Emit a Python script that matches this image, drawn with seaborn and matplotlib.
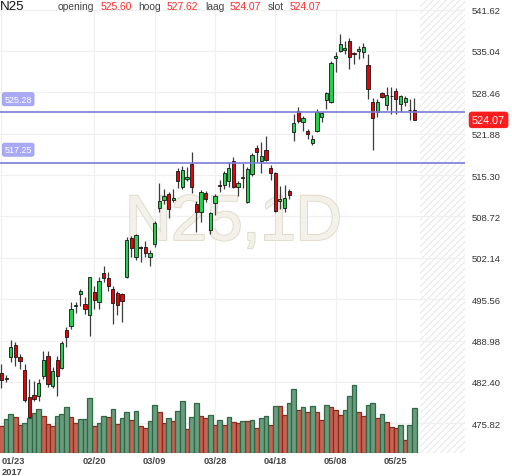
import numpy as np
import pandas as pd
import matplotlib
matplotlib.use("Agg")
import matplotlib.pyplot as plt
import matplotlib.transforms as mtransforms
import matplotlib.patheffects as pe
import seaborn as sns

sns.set_theme(style="white")
plt.rcParams["font.family"] = ["Liberation Sans", "DejaVu Sans"]
plt.rcParams["hatch.linewidth"] = 0.7

# ---- data (N25 daily, 23 jan - 31 mei 2017) ----
open_ = [483.82, 482.92, 486.32, 488.28, 486.42, 484.35, 479.96, 480.33, 480.21, 483.39,
         486.57, 481.71, 485.89, 484.57, 490.66, 491.25, 494.50, 496.34, 494.75, 493.05,
         496.75, 495.16, 499.68, 498.93, 497.18, 496.54, 496.34, 499.04, 505.34, 502.32,
         503.85, 503.91, 502.22, 504.29, 510.11, 511.38, 512.29, 511.28, 515.99, 513.35,
         514.67, 517.05, 510.69, 509.47, 512.44, 506.56, 510.81, 513.76, 513.72, 514.40,
         517.48, 513.35, 514.90, 511.06, 515.46, 519.55, 517.48, 519.28, 516.37, 515.62,
         511.22, 510.06, 512.71, 522.10, 525.53, 523.69, 522.25, 520.39, 522.35, 524.48,
         527.28, 526.87, 533.86, 535.07, 535.18, 536.61, 534.70, 535.07, 534.91, 532.72,
         526.96, 525.32, 528.30, 526.44, 527.80, 528.71, 526.52, 526.87, 525.60, 525.60]
high = [485.25, 483.51, 489.07, 488.71, 486.85, 485.25, 482.87, 482.60, 482.87, 487.37,
        487.37, 484.73, 486.57, 488.96, 491.09, 495.16, 495.07, 497.18, 495.86, 499.14,
        497.70, 499.04, 500.88, 499.84, 497.70, 496.91, 496.54, 505.40, 505.65, 505.92,
        504.06, 504.86, 503.38, 508.04, 513.99, 513.08, 512.56, 513.08, 516.37, 516.78,
        516.53, 518.92, 511.22, 512.97, 512.81, 509.47, 512.29, 514.56, 515.99, 517.33,
        518.22, 514.40, 517.21, 516.53, 518.80, 520.08, 520.51, 521.46, 516.90, 515.74,
        513.60, 513.72, 513.08, 525.00, 526.07, 524.64, 522.62, 521.67, 525.80, 525.37,
        528.55, 533.48, 534.82, 537.65, 536.66, 537.09, 534.82, 535.86, 536.29, 534.54,
        527.50, 527.39, 528.55, 529.25, 529.25, 529.09, 528.07, 527.82, 527.39, 527.62]
low = [481.39, 482.35, 485.62, 484.98, 484.46, 479.17, 476.67, 479.42, 479.42, 482.87,
       481.55, 481.39, 480.21, 484.46, 487.91, 490.82, 493.36, 494.52, 493.20, 489.66,
       494.00, 494.00, 498.25, 496.91, 491.61, 493.05, 491.89, 498.88, 502.22, 501.84,
       501.43, 502.22, 500.88, 503.81, 509.38, 510.69, 508.47, 510.97, 513.19, 513.08,
       514.40, 512.44, 506.29, 507.88, 510.97, 505.92, 508.95, 512.65, 513.08, 513.35,
       513.19, 512.01, 513.19, 510.85, 515.19, 517.33, 515.62, 517.48, 514.56, 509.38,
       509.90, 509.38, 511.49, 520.76, 523.57, 522.35, 521.03, 520.08, 522.19, 523.78,
       525.80, 526.75, 531.68, 534.86, 534.54, 532.16, 532.95, 533.75, 533.86, 527.39,
       519.33, 524.48, 527.50, 525.69, 525.00, 524.93, 525.32, 526.32, 524.05, 524.07]
close = [482.76, 483.03, 487.91, 486.42, 485.78, 479.58, 476.78, 479.69, 482.23, 485.89,
         482.07, 484.19, 483.39, 488.55, 489.50, 494.00, 494.65, 496.81, 493.95, 499.04,
         495.48, 498.50, 498.98, 497.61, 494.91, 494.68, 495.32, 504.97, 503.75, 505.72,
         503.75, 502.95, 502.86, 507.67, 511.17, 511.92, 509.90, 511.60, 514.40, 516.15,
         514.99, 513.45, 509.47, 512.65, 511.49, 509.26, 512.01, 513.51, 515.62, 516.37,
         513.35, 514.03, 514.98, 516.26, 518.53, 519.01, 518.37, 517.69, 515.62, 509.63,
         511.49, 511.60, 512.17, 523.57, 523.94, 524.32, 521.82, 521.03, 525.37, 525.12,
         528.30, 533.11, 534.18, 536.13, 535.50, 534.02, 534.62, 535.34, 535.61, 528.90,
         524.37, 526.87, 527.76, 528.03, 527.85, 527.39, 527.87, 527.60, 525.68, 524.07]
volume = [27.3, 34.0, 39.0, 35.7, 28.3, 30.0, 35.0, 39.7, 44.0, 37.3,
          29.0, 27.3, 36.7, 39.0, 45.7, 35.7, 29.7, 34.0, 34.0, 55.0,
          27.3, 29.7, 37.3, 35.7, 44.0, 29.0, 35.0, 40.7, 33.0, 42.3,
          26.7, 25.0, 31.7, 48.3, 41.3, 29.7, 35.0, 32.3, 42.3, 51.7,
          24.0, 35.7, 49.7, 36.7, 35.0, 38.0, 28.3, 33.3, 28.3, 35.7,
          31.3, 30.0, 32.3, 32.3, 33.3, 25.0, 35.0, 37.3, 28.3, 47.3,
          46.7, 38.0, 49.7, 64.3, 43.3, 45.7, 40.7, 47.3, 40.7, 33.3,
          48.3, 45.7, 43.3, 38.0, 43.3, 57.3, 68.3, 40.7, 36.7, 48.3,
          50.0, 35.0, 39.0, 31.3, 26.3, 25.0, 28.3, 13.0, 28.3, 44.7]
# u = groene volumebalk, d = rode volumebalk
vol_dir = ["d", "u", "u", "d", "d", "u", "u", "u", "u", "d",
           "d", "d", "u", "u", "u", "d", "d", "u", "u", "u",
           "d", "u", "u", "d", "u", "d", "u", "u", "d", "u",
           "d", "d", "u", "u", "d", "d", "u", "d", "u", "u",
           "d", "u", "u", "d", "d", "u", "d", "u", "d", "u",
           "d", "d", "u", "d", "u", "d", "u", "u", "d", "u",
           "d", "d", "u", "u", "d", "u", "d", "u", "d", "d",
           "u", "d", "d", "d", "u", "u", "u", "d", "d", "u",
           "u", "d", "u", "d", "d", "d", "u", "d", "u", "u"]

tick_pos    = [0, 20, 33, 46, 59, 72, 85]
tick_labels = ["01/23\n2017", "02/20", "03/09", "03/28", "04/18", "05/08", "05/25"]
price_ticks = [541.62, 535.04, 528.46, 521.88, 515.30, 508.72, 502.14, 495.56, 488.98, 482.40, 475.82]
levels      = [525.28, 517.25]

df = pd.DataFrame({"idx": np.arange(len(close)), "open": open_, "high": high,
                   "low": low, "close": close, "volume": volume, "vol_dir": vol_dir})

xlo, xhi = -0.32, 99.9
ylo, yhi = 471.1, 543.29

fig = plt.figure(figsize=(5.12, 4.77), dpi=100)
fig.patch.set_facecolor("white")
rect = [0, 23 / 477, 465 / 512, 454 / 477]
ax_vol = fig.add_axes(rect)
ax = fig.add_axes(rect)

# ---- achtergrond: volume, grid, watermerk, arcering ----
ax_vol.set_facecolor("white")
sns.barplot(data=df, x="idx", y="volume", hue="vol_dir", native_scale=True,
            palette={"u": "#62a47c", "d": "#da5540"}, width=1.0, dodge=False,
            errorbar=None, legend=False, ax=ax_vol, linewidth=0.9, zorder=2)
edge_map = {"u": "#2f6844", "d": "#8a2a1c"}
for bar in ax_vol.patches:
    k = int(round(bar.get_x() + bar.get_width() / 2))
    if 0 <= k < len(vol_dir):
        bar.set_edgecolor(edge_map[vol_dir[k]])
ax_vol.set_xlim(xlo, xhi)
ax_vol.set_ylim(0, max(volume) * 6.65)
ax_vol.set_xlabel("")
ax_vol.set_ylabel("")
ax_vol.set_xticks([])
ax_vol.set_yticks([])
for s in ax_vol.spines.values():
    s.set_visible(False)

ax_vol.axvspan(90.2, xhi, facecolor="white", edgecolor="#e6e6e6", hatch="/////",
               linewidth=0, zorder=0)
blend = mtransforms.blended_transform_factory(ax_vol.transAxes, ax.transData)
for p in price_ticks:
    ax_vol.plot([0, 1], [p, p], transform=blend, color="#f0f0f0", lw=0.9, zorder=0.5)
for t in tick_pos:
    ax_vol.axvline(t, ymin=0, ymax=1 - 10 / 454, color="#f0f0f0", lw=0.9, zorder=0.5)

wm = ax_vol.text(0.502, 0.507, "N25,1D", transform=ax_vol.transAxes, fontsize=46,
                 color="#f3f1ea", ha="center", va="center", zorder=1)
wm.set_path_effects([pe.withStroke(linewidth=1.6, foreground="#e0dbcc"), pe.Normal()])

# ---- koerslaag: candles ----
ax.patch.set_visible(False)
body_lo = np.minimum(df["open"], df["close"])
body_h = np.maximum(np.abs(df["close"] - df["open"]), 0.1)
body_col = np.where(df["close"] >= df["open"], "#25d04c", "#ec0000")
ax.vlines(df["idx"], df["low"], df["high"], color="#3c3c3c", lw=0.9, zorder=2)
ax.bar(df["idx"], body_h, bottom=body_lo, width=0.7, color=body_col,
       edgecolor="#141414", linewidth=0.6, zorder=3)

for lv in levels:
    ax.axhline(lv, color="#7b7bd8", lw=1.2, zorder=4)
    ax.annotate(f"{lv:.2f}", xy=(0.0097, lv), xycoords=("axes fraction", "data"),
                xytext=(0, 9.4), textcoords="offset points", ha="left", va="center",
                fontsize=6.5, color="white",
                bbox=dict(boxstyle="round,pad=0.22", fc="#a9a9f6", ec="#9c9cee", lw=0.6))

ax.set_xlim(xlo, xhi)
ax.set_ylim(ylo, yhi)
ax.yaxis.tick_right()
ax.set_yticks(price_ticks)
ax.set_yticklabels([f"{p:.2f}" for p in price_ticks])
ax.tick_params(axis="y", length=0, pad=5, labelsize=6.8, colors="#333333")
ax.set_xticks(tick_pos)
ax.set_xticklabels(tick_labels)
ax.tick_params(axis="x", length=0, pad=2.5, labelsize=6.7, colors="#444444")
for lab in ax.get_xticklabels():
    lab.set_fontweight("bold")
first = ax.get_xticklabels()[0]
first.set_horizontalalignment("left")
first.set_multialignment("left")
for s in ax.spines.values():
    s.set_visible(False)
ax.grid(False)

# laatste koers
ax.text(1 + 7 / 465, close[-1], f"{close[-1]:.2f}",
        transform=mtransforms.blended_transform_factory(ax.transAxes, ax.transData),
        ha="left", va="center", fontsize=7.8, color="white", zorder=6, clip_on=False,
        bbox=dict(boxstyle="round,pad=0.3", fc="#ff1c1c", ec="none"))

# kopregel
base = 1 - 10.3 / 477
fig.text(0 / 512, base, "N25", fontsize=9.6, color="#151515", va="baseline")
hdr = [("opening", 58, "#444444"), (f"{open_[-1]:.2f}", 101, "#ff2a2a"),
       ("hoog", 138, "#444444"), (f"{high[-1]:.2f}", 167, "#ff2a2a"),
       ("laag", 205, "#444444"), (f"{low[-1]:.2f}", 230, "#ff2a2a"),
       ("slot", 268, "#444444"), (f"{close[-1]:.2f}", 290, "#ff2a2a")]
for txt, xp, col in hdr:
    fig.text(xp / 512, base, txt, fontsize=7.4, color=col, va="baseline")

fig.savefig("out.png", dpi=100, facecolor="white")
